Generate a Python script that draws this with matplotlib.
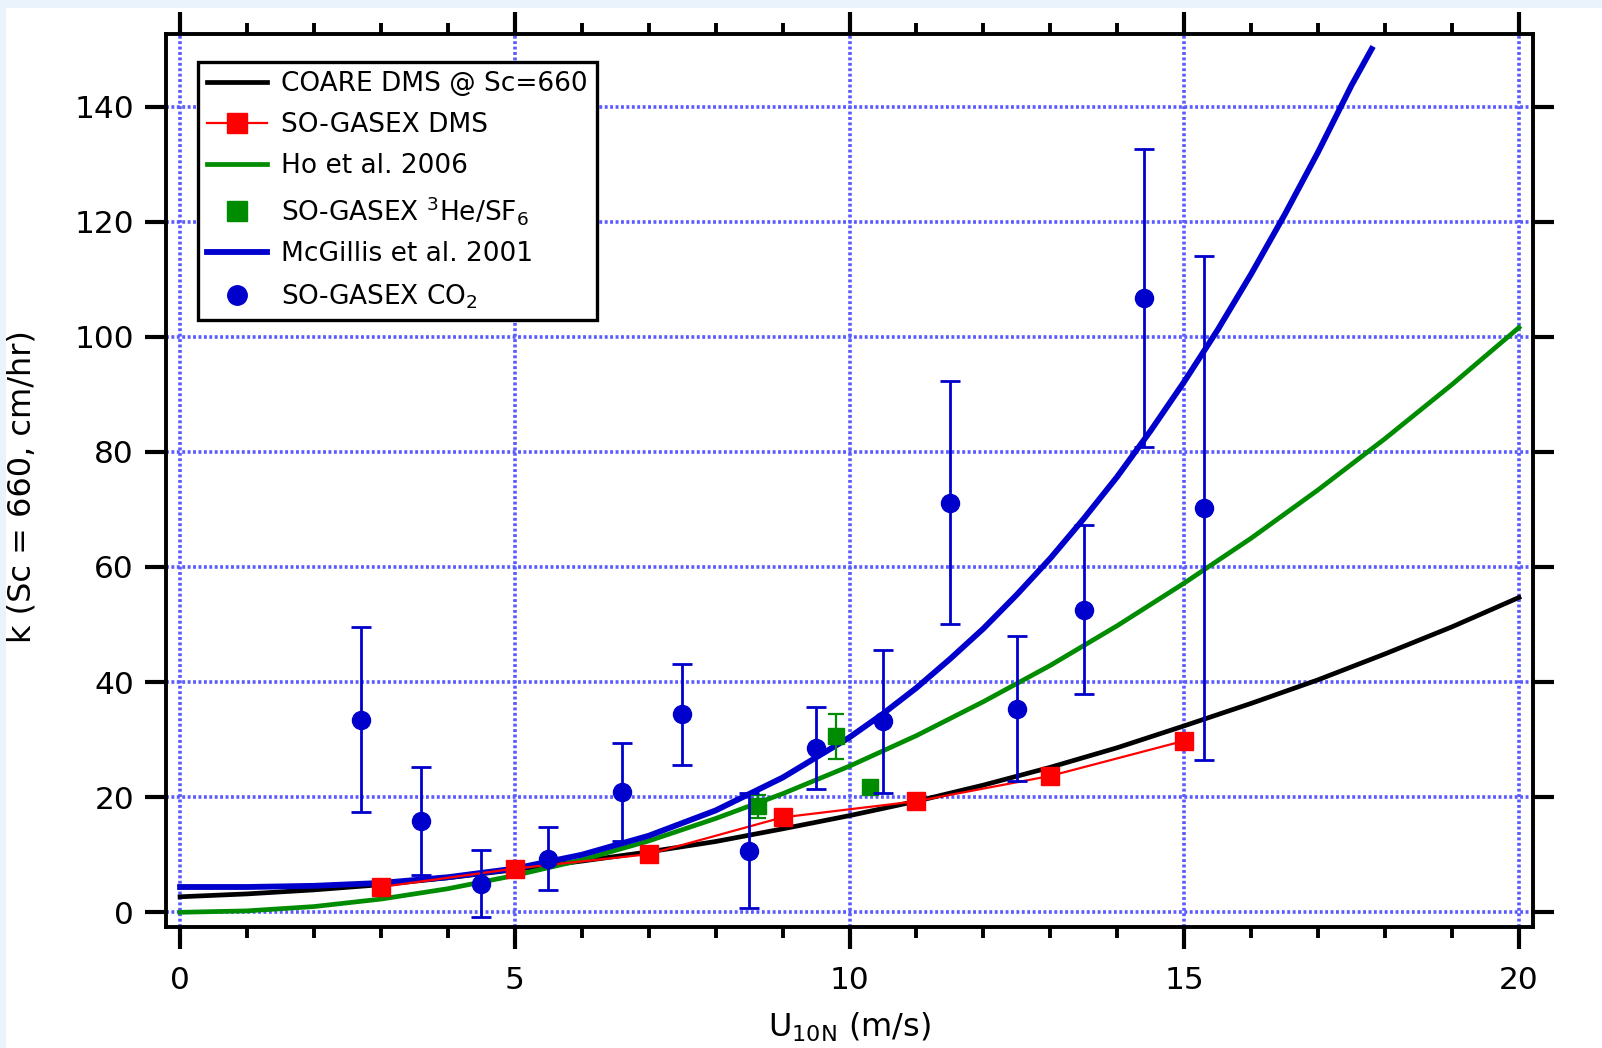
import matplotlib
matplotlib.use("Agg")
import matplotlib.pyplot as plt
from matplotlib.lines import Line2D
from matplotlib.patches import Rectangle
from matplotlib.ticker import MultipleLocator

plt.rcParams['font.family'] = ['DejaVu Sans']
plt.rcParams['mathtext.default'] = 'regular'

# ---- data ----
curve_u = [0, 1, 2, 3, 4, 5, 6, 7, 8, 9, 10, 11, 12, 13, 14, 15, 16, 17, 18, 19, 20]
coare_k = [2.7, 3.2, 3.9, 4.8, 6.0, 7.4, 8.9, 10.5, 12.3, 14.5, 16.8, 19.3, 22.1,
           25.2, 28.6, 32.4, 36.3, 40.4, 44.9, 49.6, 54.7]
ho_k = [0, 0.25, 1.0, 2.3, 4.1, 6.4, 9.1, 12.4, 16.3, 20.6, 25.4, 30.7, 36.6,
        42.9, 49.8, 57.2, 65.0, 73.4, 82.3, 91.7, 101.6]
mcg_u = [0, 1, 2, 3, 4, 5, 6, 7, 8, 9, 10, 10.5, 11, 11.5, 12, 12.5, 13, 13.5, 14,
         14.5, 15, 15.5, 16, 16.5, 17, 17.5, 17.8]
mcg_k = [4.4, 4.4, 4.6, 5.1, 6.1, 7.6, 10.0, 13.3, 17.7, 23.4, 30.4, 34.5, 39.0,
         44.0, 49.3, 55.2, 61.5, 68.4, 75.7, 83.7, 92.2, 101.2, 110.9, 121.2,
         132.1, 143.7, 150.0]

dms_u = [3, 5, 7, 9, 11, 13, 15]
dms_k = [4.4, 7.6, 10.1, 16.5, 19.3, 23.7, 29.8]

he_u = [8.63, 9.8, 10.3]
he_k = [18.4, 30.6, 21.8]
he_err = [2.0, 3.9, 0.0]

co2_u = [2.7, 3.6, 4.5, 5.5, 6.6, 7.5, 8.5, 9.5, 10.5, 11.5, 12.5, 13.5, 14.4, 15.3]
co2_k = [33.5, 15.8, 5.0, 9.3, 20.9, 34.4, 10.7, 28.6, 33.2, 71.2, 35.4, 52.6, 106.8, 70.2]
co2_err = [16.0, 9.4, 5.8, 5.5, 8.5, 8.8, 10.0, 7.1, 12.4, 21.1, 12.6, 14.7, 25.9, 43.8]

labels = ['COARE DMS @ Sc=660', 'SO-GASEX DMS', 'Ho et al. 2006',
          r'SO-GASEX $^{3}$He/SF$_{6}$', 'McGillis et al. 2001', r'SO-GASEX CO$_{2}$']
x_major = [0, 5, 10, 15, 20]
y_major = [0, 20, 40, 60, 80, 100, 120, 140]

BLUE = '#0000CC'
GREEN = '#008C00'
RED = '#FF0000'
GRID = '#5a5aff'

W, H = 1602, 1048
fig = plt.figure(figsize=(W / 100, H / 100), dpi=100)
fig.patch.set_facecolor('white')
fig.patches.append(Rectangle((0, 1 - 8 / H), 1, 8 / H, transform=fig.transFigure,
                             facecolor='#EAF2FB', edgecolor='none', zorder=0))
fig.patches.append(Rectangle((0, 0), 6 / W, 1, transform=fig.transFigure,
                             facecolor='#EAF2FB', edgecolor='none', zorder=0))

ax = fig.add_axes([166 / W, 1 - 927 / H, (1533 - 166) / W, (927 - 34) / H])
ax.set_xlim(-0.21, 20.21)
ax.set_ylim(-2.55, 152.6)

ax.set_xticks(x_major)
ax.set_yticks(y_major)
ax.xaxis.set_minor_locator(MultipleLocator(1))
ax.grid(True, which='major', color=GRID, linestyle=(0, (0.8, 0.7)), linewidth=2.6, alpha=1.0, zorder=0)
ax.set_axisbelow(True)

for s in ax.spines.values():
    s.set_linewidth(2.8)
ax.tick_params(axis='x', which='major', direction='out', length=16, width=3.0,
               top=True, bottom=True, labelsize=22.5, pad=12)
ax.tick_params(axis='x', which='minor', direction='out', length=8, width=2.8,
               top=True, bottom=True)
ax.tick_params(axis='y', which='major', direction='out', length=15, width=3.0,
               left=True, right=True, labelsize=22.5, pad=8)

l1, = ax.plot(curve_u, coare_k, color='black', lw=3.4, zorder=3)
l3, = ax.plot(curve_u, ho_k, color=GREEN, lw=3.4, zorder=3)
l5, = ax.plot(mcg_u, mcg_k, color=BLUE, lw=4.2, zorder=4)
l2, = ax.plot(dms_u, dms_k, color=RED, lw=1.6, marker='s', ms=13, mec=RED, mfc=RED, zorder=6)
ax.errorbar(he_u, he_k, yerr=he_err, fmt='s', color=GREEN, ms=12, elinewidth=1.6,
            capsize=6, capthick=1.6, zorder=5)
ax.errorbar(co2_u, co2_k, yerr=co2_err, fmt='o', color=BLUE, ms=13, elinewidth=2.0,
            capsize=7.5, capthick=2.0, zorder=7)

handles = [
    Line2D([], [], color='black', lw=3.4),
    Line2D([], [], color=RED, lw=1.6, marker='s', ms=14),
    Line2D([], [], color=GREEN, lw=3.4),
    Line2D([], [], color=GREEN, lw=0, marker='s', ms=14),
    Line2D([], [], color=BLUE, lw=4.2),
    Line2D([], [], color=BLUE, lw=0, marker='o', ms=14),
]
leg = ax.legend(handles, labels, loc='upper left', bbox_to_anchor=(0.0234, 0.9686),
                borderaxespad=0, fontsize=19, frameon=True, fancybox=False,
                edgecolor='black', framealpha=1, handlelength=2.25, handletextpad=0.55,
                labelspacing=0.56, borderpad=0.35)
leg.get_frame().set_linewidth(2.4)
leg.set_zorder(10)

fig.text(22 / W, 1 - 487 / H, 'k (Sc = 660, cm/hr)', rotation=90, ha='center',
         va='center', fontsize=23)
fig.text(849 / W, 1 - 1037 / H, r'U$_{10N}$ (m/s)', ha='center', va='baseline', fontsize=23)

fig.savefig('out.png', dpi=100)
